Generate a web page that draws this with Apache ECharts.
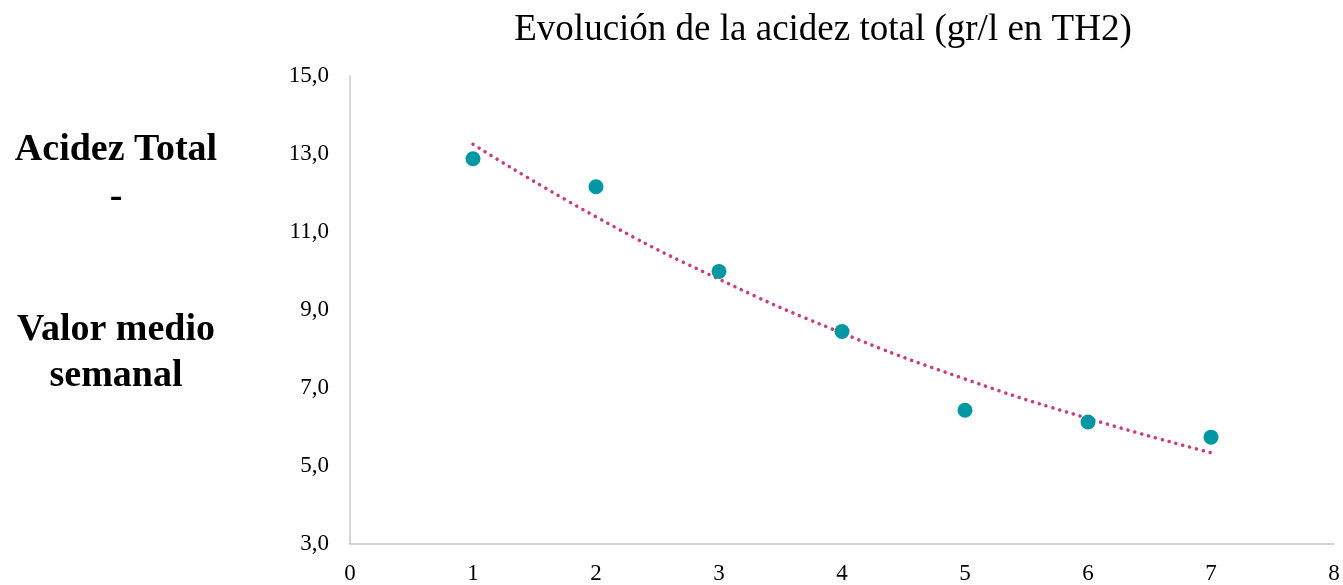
<!DOCTYPE html>
<html>
<head>
<meta charset="utf-8">
<script src="https://cdn.jsdelivr.net/npm/echarts@6/dist/echarts.min.js"></script>
<style>html,body{margin:0;padding:0;background:#fff;}#c{width:1343px;height:585px;}</style>
</head>
<body>
<div id="c"></div>
<script>
const weeks = [1, 2, 3, 4, 5, 6, 7];
const acidity = [12.88, 12.16, 9.99, 8.45, 6.43, 6.13, 5.74];
const trendValues = [13.25, 11.39, 9.79, 8.41, 7.23, 6.22, 5.34];
const titleText = 'Evolución de la acidez total (gr/l en TH2)';
const sideLabels = ['Acidez Total', '-', 'Valor medio', 'semanal'];

const font = '"Liberation Serif", "Times New Roman", serif';
const chart = echarts.init(document.getElementById('c'), null, {renderer: 'canvas'});
const sideY = [150, 197, 330, 376];
chart.setOption({
  animation: false,
  backgroundColor: '#ffffff',
  title: {
    text: titleText,
    left: 818, top: 7, textAlign: 'center',
    textStyle: {fontFamily: font, fontSize: 37, fontWeight: 'normal', color: '#000'}
  },
  graphic: sideLabels.map((t, i) => ({
    type: 'text', x: 116, y: sideY[i],
    style: {text: t, font: 'bold 38px ' + font, fill: '#000', textAlign: 'center', textVerticalAlign: 'middle'}
  })),
  grid: {left: 350, right: 9, top: 76, bottom: 40, containLabel: false},
  xAxis: {
    type: 'value', min: 0, max: 8, interval: 1,
    axisLine: {show: true, lineStyle: {color: '#c8c8c8', width: 1.5}},
    axisTick: {show: false},
    splitLine: {show: false},
    axisLabel: {fontFamily: font, fontSize: 23, color: '#000', margin: 18}
  },
  yAxis: {
    type: 'value', min: 3, max: 15, interval: 2,
    axisLine: {show: true, lineStyle: {color: '#c8c8c8', width: 1.5}},
    axisTick: {show: false},
    splitLine: {show: false},
    axisLabel: {fontFamily: font, fontSize: 23, color: '#000', margin: 21,
      formatter: v => v.toFixed(1).replace('.', ',')}
  },
  series: [
    {
      type: 'line', smooth: true, symbol: 'none', z: 2,
      data: weeks.map((w, i) => [w, trendValues[i]]),
      lineStyle: {color: '#c93d7c', width: 3.5, type: [0.1, 7], cap: 'round'}
    },
    {
      type: 'scatter', symbolSize: 15, z: 3,
      data: weeks.map((w, i) => [w, acidity[i]]),
      itemStyle: {color: '#0097a5', opacity: 1}
    }
  ]
});
</script>
</body>
</html>
